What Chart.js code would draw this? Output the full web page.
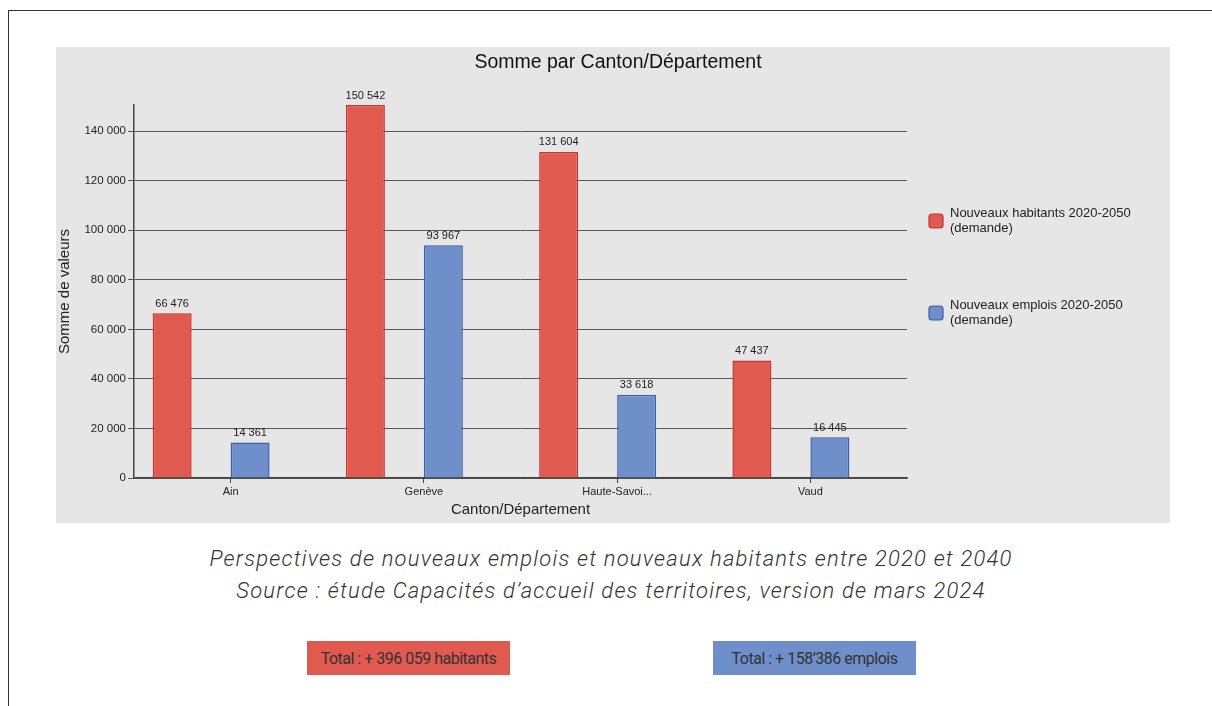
<!DOCTYPE html>
<html>
<head>
<meta charset="utf-8">
<script src="https://cdn.jsdelivr.net/npm/chart.js@4.4.1/dist/chart.umd.min.js"></script>
<style>
  body { margin: 0; background: #fff; width: 1212px; height: 706px; overflow: hidden; position: relative; }
  #frame { position: absolute; left: 8px; top: 10px; width: 1210px; height: 700px; border-top: 1px solid #333; border-left: 1px solid #333; }
  #panel { position: absolute; left: 56px; top: 47px; width: 1114px; height: 476px; background: #e6e6e6; }
  .caption { position: absolute; left: 0; width: 1222px; text-align: center; font-family: Roboto, sans-serif; font-style: italic; font-weight: 300; font-size: 22px; letter-spacing: 1.2px; color: #333; }
  .total { position: absolute; top: 641px; width: 203px; height: 34px; line-height: 35px; text-align: center; font-family: Roboto, sans-serif; font-size: 16px; letter-spacing: -0.5px; color: #333; }
</style>
</head>
<body>
<div id="frame"></div>
<div id="panel"><canvas id="chart" width="1114" height="476"></canvas></div>
<div class="caption" style="top:546px">Perspectives de nouveaux emplois et nouveaux habitants entre 2020 et 2040</div>
<div class="caption" style="top:578px">Source : étude Capacités d’accueil des territoires, version de mars 2024</div>
<div class="total" style="left:307px; background:#e05a4f">Total : + 396 059 habitants</div>
<div class="total" style="left:713px; background:#6e8fca">Total : + 158’386 emplois</div>
<script>
var categories = ['Ain', 'Genève', 'Haute-Savoi...', 'Vaud'];
var habitants = [66476, 150542, 131604, 47437];
var emplois = [14361, 93967, 33618, 16445];
var seriesNames = [['Nouveaux habitants 2020-2050', '(demande)'], ['Nouveaux emplois 2020-2050', '(demande)']];
var yTicks = [0, 20000, 40000, 60000, 80000, 100000, 120000, 140000];
var chartTitle = 'Somme par Canton/Département';

function fmt(n) {
  return String(n).replace(/\B(?=(\d{3})+(?!\d))/g, ' ');
}

var valueLabels = {
  id: 'valueLabels',
  afterDatasetsDraw: function(chart) {
    var ctx = chart.ctx;
    ctx.save();
    ctx.font = '11px "Liberation Sans", Arial, sans-serif';
    ctx.fillStyle = '#222';
    ctx.textAlign = 'center';
    ctx.textBaseline = 'bottom';
    chart.data.datasets.forEach(function(ds, i) {
      if (ds.spacer) return;
      chart.getDatasetMeta(i).data.forEach(function(bar, j) {
        ctx.fillText(fmt(ds.data[j]), bar.x, bar.y - 4);
      });
    });
    ctx.restore();
  }
};

// title over the whole panel + legend at the right, two lines per entry
var sideLegend = {
  id: 'sideLegend',
  afterDraw: function(chart) {
    var ctx = chart.ctx;
    ctx.save();
    ctx.font = '19.5px "Liberation Sans", Arial, sans-serif';
    ctx.fillStyle = '#111';
    ctx.textAlign = 'center';
    ctx.textBaseline = 'middle';
    ctx.fillText(chartTitle, 562, 16);

    var real = chart.data.datasets.filter(function(d) { return !d.spacer; });
    ctx.font = '13px "Liberation Sans", Arial, sans-serif';
    ctx.textAlign = 'left';
    real.forEach(function(ds, i) {
      var y = 173 + i * 92;
      ctx.beginPath();
      ctx.roundRect(873, y - 6, 14, 14, 3);
      ctx.fillStyle = ds.backgroundColor;
      ctx.fill();
      ctx.lineWidth = 1.2;
      ctx.strokeStyle = ds.borderColor;
      ctx.stroke();
      ctx.fillStyle = '#222';
      ds.legendLines.forEach(function(line, k) {
        ctx.fillText(line, 894, y - 7 + k * 15);
      });
    });
    ctx.restore();
  }
};

var ctx = document.getElementById('chart').getContext('2d');
new Chart(ctx, {
  type: 'bar',
  data: {
    labels: categories,
    datasets: [
      { label: seriesNames[0][0], legendLines: seriesNames[0], data: habitants, backgroundColor: '#e05a4f', borderColor: '#c8322c', borderWidth: 1.5 },
      { label: '', spacer: true, data: categories.map(function() { return null; }) },
      { label: seriesNames[1][0], legendLines: seriesNames[1], data: emplois, backgroundColor: '#6e8fca', borderColor: '#3f5ea9', borderWidth: 1.5 },
      { label: '', spacer: true, data: categories.map(function() { return null; }) }
    ]
  },
  options: {
    responsive: false,
    animation: false,
    categoryPercentage: 0.807,
    barPercentage: 1,
    layout: { padding: { top: 58, right: 263, bottom: 0, left: 0 } },
    plugins: {
      legend: { display: false },
      tooltip: { enabled: false },
      title: { display: false }
    },
    scales: {
      x: {
        afterFit: function(s) { s.height = 45; },
        grid: { offset: false, drawOnChartArea: false, drawTicks: true, tickLength: 5, color: '#444' },
        border: { color: '#444', width: 1.5 },
        ticks: { color: '#222', padding: 2, font: { family: '"Liberation Sans", Arial, sans-serif', size: 11 }, maxRotation: 0, autoSkip: false },
        title: { display: true, text: 'Canton/Département', color: '#222', padding: { top: 0, bottom: 4 }, font: { family: '"Liberation Sans", Arial, sans-serif', size: 15 } }
      },
      y: {
        min: 0,
        max: Math.max.apply(null, habitants.concat(emplois)),
        z: 1,
        afterFit: function(s) { s.width = 78; },
        afterBuildTicks: function(s) { s.ticks = yTicks.map(function(v) { return { value: v }; }); },
        grid: { color: 'rgba(40,40,40,0.75)', tickLength: 6, lineWidth: 1 },
        border: { color: '#444', width: 1.5 },
        ticks: { color: '#222', padding: 2, callback: function(v) { return fmt(v); }, font: { family: '"Liberation Sans", Arial, sans-serif', size: 11.5 } },
        title: { display: true, text: 'Somme de valeurs', color: '#222', padding: { top: 0, bottom: 7 }, font: { family: '"Liberation Sans", Arial, sans-serif', size: 15 } }
      }
    }
  },
  plugins: [valueLabels, sideLegend]
});
</script>
</body>
</html>
